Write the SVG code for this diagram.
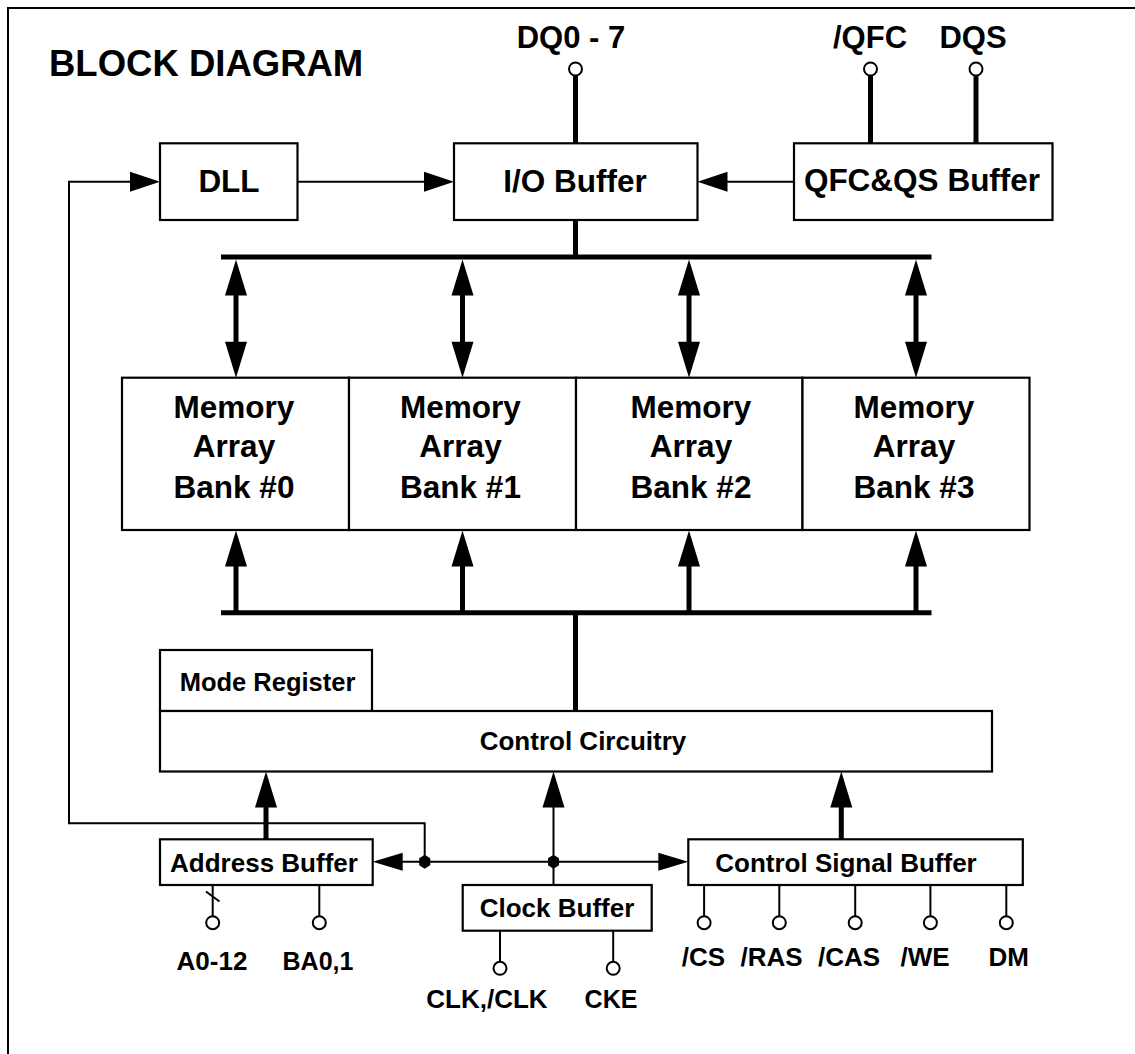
<svg xmlns="http://www.w3.org/2000/svg" xmlns:xlink="http://www.w3.org/1999/xlink" width="1135" height="1054" viewBox="0 0 1135 1054">
<style>
.thin{stroke:#000;stroke-width:2;fill:none}
.thick{stroke:#000;stroke-width:5;fill:none}
.box{fill:#fff;stroke:#000;stroke-width:2.2}
.pin{fill:#fff;stroke:#000;stroke-width:2}
.head{fill:#000;stroke:none}
text{font-family:"Liberation Sans",Arial,Helvetica,sans-serif;font-weight:bold;fill:#000;text-anchor:middle}
.big{font-size:31.5px}
.mid{font-size:26px}
.title{font-size:36.5px;text-anchor:start}
</style>
<defs>
<polygon id="hUp" class="head" points="0,0 -11,36 11,36"/>
<polygon id="hDown" class="head" points="0,0 -11,-36 11,-36"/>
<polygon id="hR" class="head" points="0,0 -30,-10 -30,10"/>
<polygon id="hL" class="head" points="0,0 30,-10 30,10"/>
<polygon id="hRs" class="head" points="0,0 -30,-9 -30,9"/>
<polygon id="hLs" class="head" points="0,0 30,-9 30,9"/>
<polygon id="dot" class="head" points="0,-7 5.5,-3.5 5.5,3.5 0,7 -5.5,3.5 -5.5,-3.5"/>
</defs>
<rect width="1135" height="1054" fill="#fff"/>
<path class="thin" d="M8,1054 V8 H1135"/>
<text class="title" x="49" y="76">BLOCK DIAGRAM</text>

<g id="connectors">
  <!-- top pins -->
  <line class="thick" x1="575.5" y1="75.5" x2="575.5" y2="143"/>
  <line class="thick" x1="870.5" y1="75.5" x2="870.5" y2="143"/>
  <line class="thick" x1="976" y1="75.5" x2="976" y2="143"/>
  <!-- DLL feedback -->
  <path class="thin" d="M424.7,861.7 V823.3 H69 V181.7 H131"/>
  <use href="#hR" xlink:href="#hR" x="160" y="181.7"/>
  <!-- DLL to IO -->
  <line class="thin" x1="297" y1="181.7" x2="426" y2="181.7"/>
  <use href="#hR" xlink:href="#hR" x="454" y="181.7"/>
  <!-- QFC to IO -->
  <line class="thin" x1="794" y1="181.7" x2="726" y2="181.7"/>
  <use href="#hL" xlink:href="#hL" x="697.5" y="181.7"/>
  <!-- IO to top bus -->
  <line class="thick" x1="575.5" y1="220" x2="575.5" y2="257"/>
  <line class="thick" x1="221" y1="257" x2="931.5" y2="257"/>
  <!-- bank bidirectional arrows -->
  <line class="thick" x1="236" y1="290" x2="236" y2="346"/>
  <use href="#hUp" xlink:href="#hUp" x="236" y="259.5"/>
  <use href="#hDown" xlink:href="#hDown" x="236" y="377.7"/>
  <line class="thick" x1="462.5" y1="290" x2="462.5" y2="346"/>
  <use href="#hUp" xlink:href="#hUp" x="462.5" y="259.5"/>
  <use href="#hDown" xlink:href="#hDown" x="462.5" y="377.7"/>
  <line class="thick" x1="689" y1="290" x2="689" y2="346"/>
  <use href="#hUp" xlink:href="#hUp" x="689" y="259.5"/>
  <use href="#hDown" xlink:href="#hDown" x="689" y="377.7"/>
  <line class="thick" x1="916" y1="290" x2="916" y2="346"/>
  <use href="#hUp" xlink:href="#hUp" x="916" y="259.5"/>
  <use href="#hDown" xlink:href="#hDown" x="916" y="377.7"/>
  <!-- bottom bus and up arrows -->
  <line class="thick" x1="221" y1="612.7" x2="931.5" y2="612.7"/>
  <line class="thick" x1="236" y1="562" x2="236" y2="612.7"/>
  <use href="#hUp" xlink:href="#hUp" x="236" y="530.5"/>
  <line class="thick" x1="462.5" y1="562" x2="462.5" y2="612.7"/>
  <use href="#hUp" xlink:href="#hUp" x="462.5" y="530.5"/>
  <line class="thick" x1="689" y1="562" x2="689" y2="612.7"/>
  <use href="#hUp" xlink:href="#hUp" x="689" y="530.5"/>
  <line class="thick" x1="916" y1="562" x2="916" y2="612.7"/>
  <use href="#hUp" xlink:href="#hUp" x="916" y="530.5"/>
  <line class="thick" x1="575.5" y1="612.7" x2="575.5" y2="711"/>
  <!-- into control circuitry -->
  <line class="thick" x1="266" y1="803" x2="266" y2="839.3"/>
  <use href="#hUp" xlink:href="#hUp" x="266" y="771.5"/>
  <line class="thin" x1="553.5" y1="885" x2="553.5" y2="800"/>
  <use href="#hUp" xlink:href="#hUp" x="553.5" y="771.5"/>
  <line class="thick" x1="841.3" y1="803" x2="841.3" y2="839.3"/>
  <use href="#hUp" xlink:href="#hUp" x="841.3" y="771.5"/>
  <!-- clock distribution -->
  <line class="thin" x1="400" y1="861.7" x2="662" y2="861.7"/>
  <use href="#hLs" xlink:href="#hLs" x="372.7" y="861.7"/>
  <use href="#hRs" xlink:href="#hRs" x="688.3" y="861.7"/>
  <use href="#dot" xlink:href="#dot" x="424.7" y="861.7"/>
  <use href="#dot" xlink:href="#dot" x="553.5" y="861.7"/>
  <!-- bottom pins -->
  <line class="thin" x1="212.7" y1="885" x2="212.7" y2="916.2"/>
  <line class="thin" x1="206" y1="891.5" x2="219.5" y2="901.5"/>
  <line class="thin" x1="319.3" y1="885" x2="319.3" y2="916.2"/>
  <line class="thin" x1="500" y1="930.7" x2="500" y2="961.8"/>
  <line class="thin" x1="613.2" y1="930.7" x2="613.2" y2="961.8"/>
  <line class="thin" x1="704.1" y1="885" x2="704.1" y2="916.2"/>
  <line class="thin" x1="779.3" y1="885" x2="779.3" y2="916.2"/>
  <line class="thin" x1="855.2" y1="885" x2="855.2" y2="916.2"/>
  <line class="thin" x1="930.4" y1="885" x2="930.4" y2="916.2"/>
  <line class="thin" x1="1006.3" y1="885" x2="1006.3" y2="916.2"/>
</g>

<g id="pin-dq">
  <circle class="pin" cx="575.5" cy="69" r="6.5"/>
  <text class="big" x="571" y="48.3" style="font-size:31px">DQ0 - 7</text>
</g>
<g id="pin-qfc">
  <circle class="pin" cx="870.5" cy="69" r="6.5"/>
  <text class="big" x="870" y="48.3" style="font-size:31px">/QFC</text>
</g>
<g id="pin-dqs">
  <circle class="pin" cx="976" cy="69" r="6.5"/>
  <text class="big" x="973" y="48.3" style="font-size:31px">DQS</text>
</g>

<g id="dll">
  <rect class="box" x="160" y="143.3" width="137.5" height="76.7"/>
  <text class="big" x="229" y="191.7">DLL</text>
</g>
<g id="io-buffer">
  <rect class="box" x="454" y="143.3" width="243.5" height="76.7"/>
  <text class="big" x="575" y="191.7">I/O Buffer</text>
</g>
<g id="qfc-qs-buffer">
  <rect class="box" x="794" y="143.3" width="258.5" height="76.7"/>
  <text class="big" x="922" y="191">QFC&amp;QS Buffer</text>
</g>

<g id="bank0">
  <rect class="box" x="122" y="377.7" width="227" height="152.3"/>
  <text class="big" x="234" y="417.7">Memory</text>
  <text class="big" x="234" y="456.7">Array</text>
  <text class="big" x="234" y="497.7">Bank #0</text>
</g>
<g id="bank1">
  <rect class="box" x="349" y="377.7" width="227" height="152.3"/>
  <text class="big" x="460.5" y="417.7">Memory</text>
  <text class="big" x="460.5" y="456.7">Array</text>
  <text class="big" x="460.5" y="497.7">Bank #1</text>
</g>
<g id="bank2">
  <rect class="box" x="576" y="377.7" width="226.5" height="152.3"/>
  <text class="big" x="691" y="417.7">Memory</text>
  <text class="big" x="691" y="456.7">Array</text>
  <text class="big" x="691" y="497.7">Bank #2</text>
</g>
<g id="bank3">
  <rect class="box" x="802.5" y="377.7" width="227" height="152.3"/>
  <text class="big" x="914" y="417.7">Memory</text>
  <text class="big" x="914" y="456.7">Array</text>
  <text class="big" x="914" y="497.7">Bank #3</text>
</g>

<g id="mode-register">
  <rect class="box" x="160" y="650" width="212" height="61"/>
  <text class="mid" x="267.5" y="691" style="font-size:25.5px">Mode Register</text>
</g>
<g id="control-circuitry">
  <rect class="box" x="160" y="711" width="832" height="60.5"/>
  <text class="mid" x="583" y="750">Control Circuitry</text>
</g>
<g id="address-buffer">
  <rect class="box" x="160" y="839.3" width="212.7" height="45.7"/>
  <text class="mid" x="264" y="871.7">Address Buffer</text>
</g>
<g id="clock-buffer">
  <rect class="box" x="462.7" y="885" width="189" height="45.7"/>
  <text class="mid" x="557" y="916.7">Clock Buffer</text>
</g>
<g id="control-signal-buffer">
  <rect class="box" x="688.3" y="839.3" width="334.5" height="45.7"/>
  <text class="mid" x="846" y="871.7">Control Signal Buffer</text>
</g>

<g id="pin-a">
  <circle class="pin" cx="212.7" cy="922.7" r="6.5"/>
  <text class="mid" x="212" y="970">A0-12</text>
</g>
<g id="pin-ba">
  <circle class="pin" cx="319.3" cy="922.7" r="6.5"/>
  <text class="mid" x="318" y="970" style="font-size:25px">BA0,1</text>
</g>
<g id="pin-clk">
  <circle class="pin" cx="500" cy="968.3" r="6.5"/>
  <text class="mid" x="487" y="1008.3">CLK,/CLK</text>
</g>
<g id="pin-cke">
  <circle class="pin" cx="613.2" cy="968.3" r="6.5"/>
  <text class="mid" x="611" y="1008.3" style="font-size:25px">CKE</text>
</g>
<g id="pin-cs">
  <circle class="pin" cx="704.1" cy="922.7" r="6.5"/>
  <text class="mid" x="703.5" y="966">/CS</text>
</g>
<g id="pin-ras">
  <circle class="pin" cx="779.3" cy="922.7" r="6.5"/>
  <text class="mid" x="771.6" y="966">/RAS</text>
</g>
<g id="pin-cas">
  <circle class="pin" cx="855.2" cy="922.7" r="6.5"/>
  <text class="mid" x="849" y="966">/CAS</text>
</g>
<g id="pin-we">
  <circle class="pin" cx="930.4" cy="922.7" r="6.5"/>
  <text class="mid" x="925" y="966">/WE</text>
</g>
<g id="pin-dm">
  <circle class="pin" cx="1006.3" cy="922.7" r="6.5"/>
  <text class="mid" x="1008.7" y="966">DM</text>
</g>
</svg>
